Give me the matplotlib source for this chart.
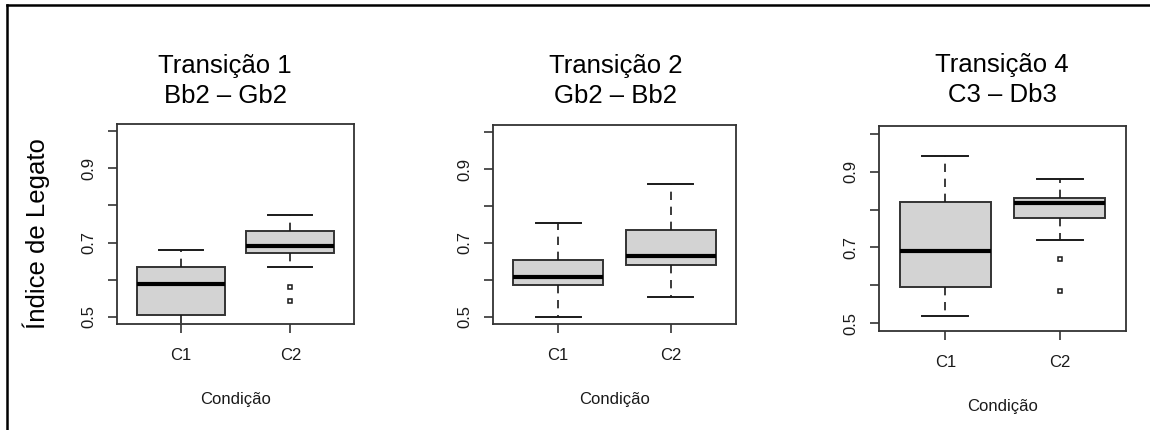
import matplotlib
matplotlib.use("Agg")
import matplotlib.pyplot as plt
from matplotlib.lines import Line2D

plt.rcParams['font.family'] = ['Liberation Sans', 'DejaVu Sans']

# ---- data -------------------------------------------------------------
categories = ["C1", "C2"]
title_lines = [("Transição 1", "Bb2 – Gb2"),
               ("Transição 2", "Gb2 – Bb2"),
               ("Transição 4", "C3 – Db3")]
y_label = "Índice de Legato"
x_label = "Condição"
y_ticks = [0.5, 0.6, 0.7, 0.8, 0.9, 1.0]
y_tick_labels = ["0.5", "", "0.7", "", "0.9", ""]

t1_whislo = [0.46, 0.634]
t1_q1 = [0.505, 0.672]
t1_med = [0.588, 0.690]
t1_q3 = [0.635, 0.730]
t1_whishi = [0.679, 0.775]
t1_fliers = [[], [0.581, 0.543]]

t2_whislo = [0.499, 0.552]
t2_q1 = [0.585, 0.639]
t2_med = [0.608, 0.664]
t2_q3 = [0.654, 0.735]
t2_whishi = [0.755, 0.859]
t2_fliers = [[], []]

t4_whislo = [0.520, 0.719]
t4_q1 = [0.596, 0.777]
t4_med = [0.691, 0.817]
t4_q3 = [0.821, 0.831]
t4_whishi = [0.940, 0.881]
t4_fliers = [[], [0.670, 0.586]]

panels = [
    (t1_whislo, t1_q1, t1_med, t1_q3, t1_whishi, t1_fliers),
    (t2_whislo, t2_q1, t2_med, t2_q3, t2_whishi, t2_fliers),
    (t4_whislo, t4_q1, t4_med, t4_q3, t4_whishi, t4_fliers),
]

# ---- layout (pixels on a 1150x430 canvas) -----------------------------
W, H = 1150, 430
axes_px = [(117, 124, 354, 324), (493, 125, 736, 324), (879, 126, 1126, 331)]
title_x_px = [225, 616, 1002]
title_base_px = [(73, 103), (73, 103), (72, 102)]

fig = plt.figure(figsize=(W / 100, H / 100), dpi=100)

edge = "#333333"
ink = "#1a1a1a"

for i, (stats_src, box) in enumerate(zip(panels, axes_px)):
    l, t, r, b = box
    ax = fig.add_axes([l / W, 1 - b / H, (r - l) / W, (b - t) / H])
    whislo, q1, med, q3, whishi, fliers = stats_src
    stats = []
    for k, cat in enumerate(categories):
        stats.append(dict(label=cat, whislo=whislo[k], q1=q1[k], med=med[k],
                          q3=q3[k], whishi=whishi[k], fliers=fliers[k]))
    ax.bxp(stats, positions=[1, 2], widths=0.8, patch_artist=True,
           boxprops=dict(facecolor="#d3d3d3", edgecolor=edge, linewidth=1.4),
           medianprops=dict(color="black", linewidth=3.0, solid_capstyle="butt"),
           whiskerprops=dict(color=ink, linewidth=1.2, linestyle=(0, (5, 4))),
           capprops=dict(color=ink, linewidth=1.4),
           flierprops=dict(marker="s", markersize=3.4, markerfacecolor="white",
                           markeredgecolor=ink, markeredgewidth=1.1))
    ax.set_xlim(0.42, 2.58)
    ax.set_ylim(0.48, 1.02)
    ax.set_yticks(y_ticks)
    ax.set_yticklabels(y_tick_labels, rotation=90, va="center")
    ax.set_xticks([1, 2])
    ax.set_xticklabels(categories)
    ax.tick_params(axis="both", length=6.5, width=1.2, color=edge,
                   labelsize=12, labelcolor=ink)
    ax.tick_params(axis="y", pad=8)
    ax.tick_params(axis="x", pad=11)
    for sp in ax.spines.values():
        sp.set_color(edge)
        sp.set_linewidth(1.3)
    ax.set_xlabel(x_label, fontsize=12, color=ink, labelpad=21)

    tx = title_x_px[i] / W
    for line, base in zip(title_lines[i], title_base_px[i]):
        fig.text(tx, 1 - base / H, line, ha="center", va="baseline",
                 fontsize=18.5, color="black")

fig.text(36 / W, 1 - 234 / H, y_label, rotation=90, ha="center", va="center",
         fontsize=18.5, color="black")

# outer frame
fig.add_artist(Line2D([7 / W, 1.0], [1 - 5 / H, 1 - 5 / H],
                      transform=fig.transFigure, color="black", linewidth=1.8))
fig.add_artist(Line2D([7 / W, 7 / W], [0.0, 1 - 5 / H],
                      transform=fig.transFigure, color="black", linewidth=1.8))

fig.savefig("out.png", dpi=100)
